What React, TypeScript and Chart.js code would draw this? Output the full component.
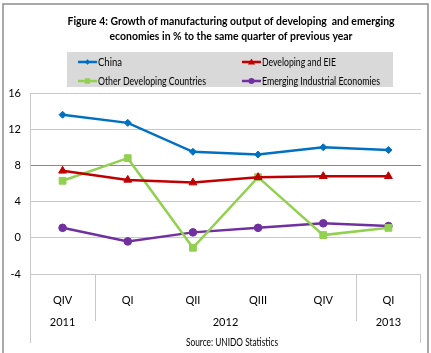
import React, { useEffect, useRef } from "react";
import { Chart, registerables } from "chart.js";

Chart.register(...registerables);

const categories = ["QIV", "QI", "QII", "QIII", "QIV", "QI"];
const yearLabels = ["2011", "2012", "2013"];
const yearStart = [0, 1, 5];
const yearEnd = [0, 4, 5];
const china = [13.6, 12.7, 9.5, 9.2, 10.0, 9.7];
const developingEIE = [7.4, 6.4, 6.1, 6.7, 6.8, 6.8];
const otherDeveloping = [6.3, 8.8, -1.1, 6.7, 0.3, 1.1];
const emergingIndustrial = [1.1, -0.4, 0.6, 1.1, 1.6, 1.3];
const seriesNames = ["China", "Developing and EIE", "Other Developing Countries", "Emerging Industrial Economies"];
const titleLines = [
  "Figure 4: Growth of manufacturing output of developing  and emerging",
  "economies in % to the same quarter of previous year",
];
const sourceText = "Source: UNIDO Statistics";

const FONT = "Lato, 'Open Sans', sans-serif";
const COLORS = ["#0070C0", "#C00000", "#92D050", "#7030A0"];
const POINT_STYLES = ["rectRot", "triangle", "rect", "circle"];
const POINT_RADII = [3.5, 4.5, 4.8, 3.8];
const LEGEND_TEXT_W = [24, 74, 108, 118];

function drawMarker(ctx: CanvasRenderingContext2D, style: string, x: number, y: number, r: number, color: string) {
  ctx.save();
  ctx.fillStyle = color;
  ctx.beginPath();
  if (style === "rectRot") {
    ctx.moveTo(x, y - r);
    ctx.lineTo(x + r, y);
    ctx.lineTo(x, y + r);
    ctx.lineTo(x - r, y);
  } else if (style === "triangle") {
    ctx.moveTo(x, y - r);
    ctx.lineTo(x + r, y + r * 0.7);
    ctx.lineTo(x - r, y + r * 0.7);
  } else if (style === "rect") {
    const s = r * Math.SQRT1_2;
    ctx.rect(x - s, y - s, 2 * s, 2 * s);
  } else {
    ctx.arc(x, y, r, 0, Math.PI * 2);
  }
  ctx.closePath();
  ctx.fill();
  ctx.restore();
}

function fitText(ctx: CanvasRenderingContext2D, text: string, x: number, y: number, maxW: number) {
  const w = ctx.measureText(text).width;
  if (w > maxW) ctx.fillText(text, x, y, maxW);
  else ctx.fillText(text, x, y);
}

const decorPlugin = {
  id: "decor",
  beforeDraw(chart: any) {
    const ctx = chart.ctx as CanvasRenderingContext2D;
    ctx.save();
    ctx.fillStyle = "#ffffff";
    ctx.fillRect(0, 0, chart.width, chart.height);
    ctx.strokeStyle = "#8c8c8c";
    ctx.lineWidth = 1.5;
    ctx.strokeRect(3, 4, 425, chart.height + 10);
    ctx.fillStyle = "#d9d9d9";
    ctx.fillRect(67, 52, 326, 35);
    ctx.restore();
  },
  afterDraw(chart: any) {
    const ctx = chart.ctx as CanvasRenderingContext2D;
    const area = chart.chartArea;
    const xScale = chart.scales.x;
    ctx.save();
    ctx.fillStyle = "#000";
    ctx.textAlign = "center";
    ctx.textBaseline = "middle";
    ctx.font = `bold 12px ${FONT}`;
    fitText(ctx, titleLines[0], 231, 21, 327);
    fitText(ctx, titleLines[1], 231, 36, 243);
    ctx.font = `11px ${FONT}`;
    ctx.textAlign = "left";
    const lx = [78, 242, 78, 242];
    const ly = [62, 62, 81, 81];
    for (let i = 0; i < 4; i++) {
      ctx.strokeStyle = COLORS[i];
      ctx.lineWidth = 2.5;
      ctx.beginPath();
      ctx.moveTo(lx[i], ly[i]);
      ctx.lineTo(lx[i] + 19, ly[i]);
      ctx.stroke();
      drawMarker(ctx, POINT_STYLES[i], lx[i] + 9.5, ly[i], POINT_RADII[i] * 0.8, COLORS[i]);
      ctx.fillStyle = "#000";
      fitText(ctx, seriesNames[i], lx[i] + 20, ly[i] + 0.5, LEGEND_TEXT_W[i]);
    }
    const step = (area.right - area.left) / categories.length;
    ctx.strokeStyle = "#c8c8c8";
    ctx.lineWidth = 1;
    ctx.beginPath();
    ctx.moveTo(area.left + 0.5, area.bottom);
    ctx.lineTo(area.left + 0.5, 343);
    ctx.moveTo(area.right - 0.5, area.bottom);
    ctx.lineTo(area.right - 0.5, 343);
    for (let i = 0; i < yearStart.length; i++) {
      if (yearStart[i] > 0) {
        const x = Math.round(area.left + step * yearStart[i]) + 0.5;
        ctx.moveTo(x, area.bottom);
        ctx.lineTo(x, 321);
      }
    }
    ctx.stroke();
    ctx.fillStyle = "#000";
    ctx.textAlign = "center";
    ctx.font = `11px ${FONT}`;
    for (let i = 0; i < yearLabels.length; i++) {
      const x = (xScale.getPixelForValue(yearStart[i]) + xScale.getPixelForValue(yearEnd[i])) / 2;
      ctx.fillText(yearLabels[i], x, 322);
    }
    fitText(ctx, sourceText, 232, 342, 92);
    ctx.restore();
  },
};

export default function App() {
  const ref = useRef<HTMLCanvasElement | null>(null);
  useEffect(() => {
    if (!ref.current) return;
    const series = [china, developingEIE, otherDeveloping, emergingIndustrial];
    const chart = new Chart(ref.current, {
      type: "line",
      data: {
        labels: categories,
        datasets: series.map((d, i) => ({
          label: seriesNames[i],
          data: d,
          borderColor: COLORS[i],
          backgroundColor: COLORS[i],
          borderWidth: 2.5,
          pointStyle: POINT_STYLES[i] as any,
          pointRadius: POINT_RADII[i],
          pointBorderWidth: 1,
          pointBorderColor: COLORS[i],
          pointBackgroundColor: COLORS[i],
          tension: 0,
          fill: false,
        })),
      },
      options: {
        animation: false,
        responsive: true,
        maintainAspectRatio: false,
        layout: { padding: { top: 93, right: 10, left: 0, bottom: 0 } },
        plugins: { legend: { display: false }, title: { display: false }, tooltip: { enabled: false } },
        scales: {
          x: {
            offset: true,
            grid: { display: false },
            border: { display: false },
            ticks: { font: { family: FONT, size: 11 }, color: "#000", padding: 12, maxRotation: 0, autoSkip: false },
            afterFit(scale: any) {
              scale.height = 79;
            },
          },
          y: {
            min: -4,
            max: 16,
            ticks: { stepSize: 4, font: { family: FONT, size: 11 }, color: "#000", padding: 9 },
            grid: {
              drawTicks: false,
              color: (c: any) => (c.tick && c.tick.value === 8 ? "#8a8a8a" : "#c8c8c8"),
              lineWidth: 1,
            },
            border: { display: true, color: "#c8c8c8" },
            afterFit(scale: any) {
              scale.width = 30;
            },
          },
        },
      },
      plugins: [decorPlugin],
    });
    return () => chart.destroy();
  }, []);
  return (
    <div style={{ position: "absolute", left: 0, top: 0, width: 431, height: 353 }}>
      <canvas ref={ref} />
    </div>
  );
}
